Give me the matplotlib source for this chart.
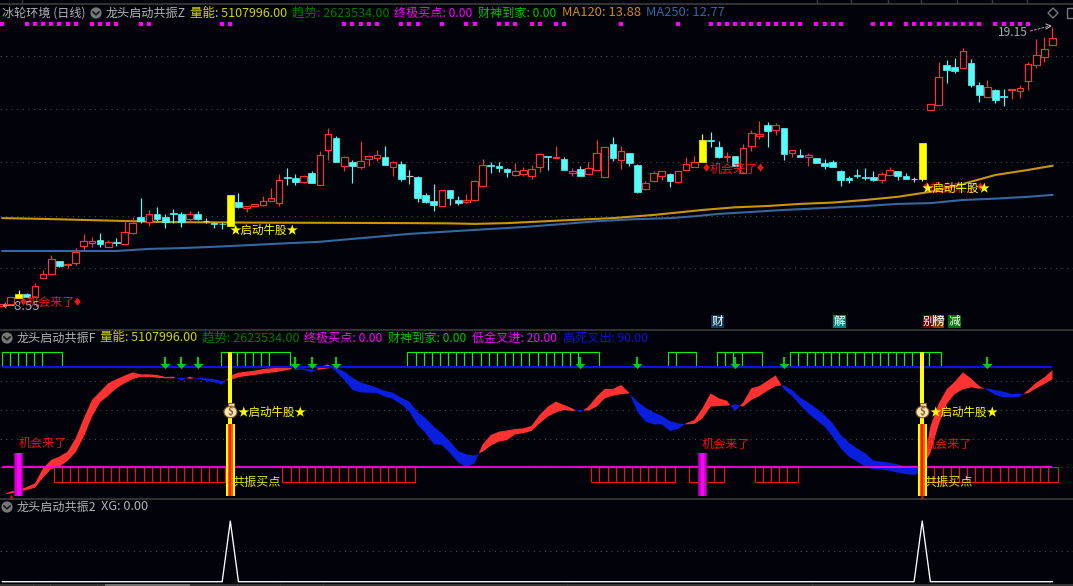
#!/usr/bin/env python3
# -*- coding: utf-8 -*-
import numpy as np
import matplotlib
matplotlib.use('Agg')
import matplotlib.pyplot as plt
from matplotlib.patches import Circle, Ellipse, Rectangle, Polygon

plt.rcParams['font.family'] = ['Noto Sans CJK SC', 'DejaVu Sans']

W, H = 1073, 586
BG = '#02020a'
GRID = '#4a4a48'
RED = '#ff3232'
CYAN = '#54fcfc'
YELLOW = '#ffff00'

# main panel, daily candles
opens = [8.55, 8.63, 8.87, 8.99, 8.90, 9.63, 9.78, 10.26, 10.11, 10.20,
         10.84, 10.96, 11.05, 10.80, 10.99, 10.92, 11.34, 11.92, 11.75, 12.05,
         11.92, 12.10, 12.05, 11.86, 12.05, 11.77, 11.72, 11.66, 11.60, 12.50,
         12.26, 12.36, 12.40, 12.54, 12.48, 13.44, 13.41, 13.27, 13.60, 13.16,
         14.49, 14.93, 13.88, 14.02, 13.84, 14.15, 14.19, 14.21, 13.84, 13.95,
         13.49, 13.45, 12.77, 12.54, 12.36, 12.96, 12.58, 12.51, 12.58, 13.12,
         13.91, 13.87, 13.76, 13.54, 13.58, 13.50, 13.84, 14.25, 14.17, 14.14,
         13.60, 13.76, 13.58, 13.73, 13.46, 14.71, 14.11, 14.36, 13.91, 13.01,
         13.30, 13.50, 13.57, 13.27, 13.73, 13.84, 14.02, 14.86, 14.59, 14.20,
         14.25, 13.59, 14.64, 15.02, 15.43, 15.25, 15.31, 14.35, 14.29, 14.20,
         14.17, 13.98, 14.02, 13.68, 13.41, 13.53, 13.45, 13.45, 13.34, 13.52,
         13.68, 13.49, 13.38, 13.38, 16.01, 16.20, 17.71, 17.63, 17.61, 17.78,
         16.95, 16.50, 16.76, 16.53, 16.75, 16.73, 17.11, 17.72, 18.02, 18.48]
closes = [8.61, 8.88, 8.99, 8.90, 9.30, 9.75, 10.32, 10.08, 10.15, 10.61,
          11.01, 11.03, 10.91, 10.97, 10.93, 11.35, 11.69, 11.78, 12.05, 11.86,
          11.73, 12.06, 11.74, 12.05, 11.86, 11.77, 11.68, 11.65, 12.77, 12.31,
          12.34, 12.43, 12.53, 12.64, 13.33, 13.43, 13.26, 13.48, 13.24, 14.28,
          15.07, 14.03, 14.20, 13.88, 14.05, 14.24, 14.28, 13.91, 14.01, 13.39,
          13.49, 12.65, 12.50, 12.39, 12.96, 12.65, 12.46, 12.58, 13.30, 13.91,
          13.87, 13.79, 13.64, 13.67, 13.72, 13.74, 14.31, 14.21, 14.21, 13.72,
          13.68, 13.49, 13.79, 14.36, 14.59, 14.17, 14.44, 13.98, 12.88, 13.21,
          13.59, 13.67, 13.30, 13.67, 13.93, 14.01, 14.86, 14.82, 14.21, 14.24,
          13.87, 14.54, 15.11, 15.07, 15.20, 15.42, 14.33, 14.47, 14.21, 14.28,
          13.98, 13.87, 13.83, 13.34, 13.34, 13.49, 13.41, 13.34, 13.57, 13.72,
          13.49, 13.38, 13.38, 14.74, 16.21, 17.24, 17.52, 17.48, 18.23, 16.95,
          16.57, 16.86, 16.38, 16.49, 16.78, 16.82, 17.73, 18.08, 18.30, 18.72]
highs = [8.63, 8.88, 9.16, 9.06, 9.41, 9.92, 10.48, 10.26, 10.20, 10.74,
         11.29, 11.16, 11.31, 11.05, 11.13, 11.82, 11.94, 12.64, 12.20, 12.30,
         12.03, 12.22, 12.11, 12.16, 12.16, 11.89, 11.73, 11.74, 12.77, 12.83,
         12.34, 12.43, 12.73, 13.02, 13.57, 13.79, 13.57, 13.52, 13.67, 14.44,
         15.31, 15.01, 14.25, 14.10, 14.82, 14.29, 14.48, 14.63, 14.06, 14.06,
         13.72, 13.49, 12.84, 13.19, 12.96, 12.96, 12.73, 12.81, 13.34, 14.14,
         14.02, 14.02, 13.79, 13.98, 13.83, 13.91, 14.36, 14.25, 14.63, 14.21,
         13.79, 13.87, 14.02, 14.86, 14.59, 14.97, 14.63, 14.36, 13.95, 13.30,
         13.68, 13.67, 13.60, 13.67, 14.21, 14.25, 15.09, 15.16, 14.82, 14.40,
         14.25, 14.69, 15.23, 15.58, 15.54, 15.50, 15.31, 14.47, 14.52, 14.36,
         14.17, 14.14, 14.10, 13.72, 13.49, 13.76, 13.79, 13.68, 13.64, 13.83,
         13.68, 13.60, 13.45, 14.74, 16.21, 17.82, 17.90, 17.97, 18.35, 17.94,
         17.06, 17.14, 16.80, 16.80, 16.78, 16.95, 17.82, 18.70, 18.77, 19.15]
lows = [8.55, 8.63, 8.87, 8.90, 8.90, 9.63, 9.78, 10.03, 10.01, 10.12,
        10.69, 10.79, 10.80, 10.80, 10.84, 10.87, 11.29, 11.69, 11.60, 11.79,
        11.53, 11.72, 11.56, 11.74, 11.82, 11.70, 11.53, 11.48, 11.60, 12.27,
        12.13, 12.32, 12.36, 12.54, 12.36, 13.15, 13.15, 13.22, 13.24, 13.16,
        14.10, 14.03, 13.68, 13.22, 13.76, 13.88, 14.06, 13.91, 13.49, 13.31,
        13.19, 12.50, 12.46, 12.16, 12.36, 12.39, 12.39, 12.46, 12.54, 13.12,
        13.60, 13.64, 13.45, 13.50, 13.49, 13.38, 13.64, 13.72, 14.17, 13.72,
        13.49, 13.49, 13.58, 13.73, 13.46, 14.06, 13.76, 13.87, 12.84, 12.96,
        13.26, 13.34, 13.07, 13.27, 13.73, 13.84, 14.02, 14.59, 14.17, 14.02,
        13.87, 13.59, 14.44, 14.90, 14.59, 15.05, 14.10, 14.21, 14.21, 13.87,
        13.98, 13.76, 13.83, 13.11, 13.22, 13.41, 13.34, 13.30, 13.22, 13.52,
        13.34, 13.38, 13.26, 13.30, 16.01, 16.20, 17.02, 17.40, 17.61, 16.87,
        16.30, 16.50, 16.26, 16.15, 16.42, 16.45, 16.76, 17.59, 17.82, 18.48]
yellow_bars = [2, 28, 86, 113]

ma120_idx = [0, 5, 10, 15, 20, 30, 40, 50, 55, 58, 62, 66, 70, 75, 80, 86, 90, 94,
             98, 102, 106, 110, 114, 118, 122, 126, 129]
ma120 = [11.89, 11.86, 11.82, 11.78, 11.74, 11.72, 11.71, 11.70, 11.69, 11.67, 11.70,
         11.76, 11.82, 11.89, 12.01, 12.20, 12.30, 12.35, 12.43, 12.48, 12.58, 12.70,
         12.89, 13.19, 13.53, 13.72, 13.88]
ma250_idx = [0, 14, 18, 22, 26, 30, 34, 39, 43, 50, 59, 64, 69, 73, 77, 82, 85, 88, 96,
             102, 106, 110, 114, 118, 122, 126, 129]
ma250 = [10.64, 10.64, 10.72, 10.75, 10.80, 10.86, 10.92, 10.99, 11.10, 11.29, 11.46,
         11.55, 11.67, 11.77, 11.84, 11.89, 11.96, 12.05, 12.20, 12.29, 12.35, 12.43,
         12.46, 12.58, 12.63, 12.70, 12.77]
main_grid = [18.05, 16.04, 14.02, 11.98, 9.99]
dot_level = 19.25
dot_idx = [0, 3, 4, 5, 6, 7, 8, 9, 11, 12, 13, 14, 17, 18, 27, 28, 42, 43, 44, 45, 46,
           49, 50, 51, 54, 57, 58, 61, 62, 63, 65, 66, 68, 69, 76, 83, 87, 88, 89, 90,
           91, 92, 93, 94, 95, 96, 97, 98, 100, 101, 102, 103, 107, 108, 109, 111, 112,
           113, 114, 115, 116, 117, 118, 119, 120, 122, 123, 124, 125, 126]

# oscillator panel
fast = [0.8, 3.2, 4.3, 6.4, 8.9, 19.4, 25.2, 27.5, 30.9, 40.2,
        54.1, 66.8, 72.6, 78.4, 81.2, 83.7, 86.0, 84.6, 84.6, 84.2,
        82.8, 83.0, 80.2, 83.0, 81.4, 80.2, 79.1, 77.5, 83.7, 85.8,
        86.5, 87.2, 88.3, 88.8, 89.3, 90.0, 87.6, 87.9, 85.8, 89.7,
        91.6, 86.5, 80.7, 73.8, 72.1, 71.9, 71.7, 69.1, 67.5, 63.8,
        58.7, 49.5, 43.7, 36.0, 35.6, 29.8, 23.5, 20.1, 22.8, 36.0,
        42.5, 44.8, 45.7, 46.7, 47.1, 48.8, 56.4, 62.2, 65.7, 63.3,
        61.0, 58.2, 62.2, 69.1, 74.5, 74.5, 77.2, 71.9, 58.7, 51.8,
        49.9, 49.9, 45.3, 46.7, 50.6, 52.9, 61.0, 71.4, 68.0, 66.3,
        59.2, 65.0, 74.9, 76.5, 80.2, 83.9, 74.2, 69.6, 63.3, 57.5,
        52.9, 48.3, 41.3, 33.2, 27.4, 24.0, 20.5, 18.6, 18.6, 17.7,
        16.3, 15.4, 14.7, 17.0, 48.3, 64.0, 74.2, 79.5, 86.0, 81.8,
        76.5, 73.7, 70.3, 68.6, 68.6, 69.1, 73.7, 78.8, 82.5, 87.6]
slow = [1.3, 1.8, 3.2, 4.3, 5.9, 12.9, 18.9, 20.5, 24.5, 30.5,
        41.3, 55.2, 65.2, 69.8, 74.9, 78.4, 81.4, 82.8, 82.8, 82.3,
        81.9, 81.9, 82.3, 81.6, 82.1, 81.9, 81.2, 80.0, 80.7, 82.6,
        83.5, 84.2, 85.1, 85.8, 86.5, 87.6, 88.8, 88.8, 87.9, 87.9,
        88.8, 89.3, 86.5, 82.3, 79.1, 77.2, 75.4, 73.1, 71.9, 68.4,
        65.7, 58.7, 54.1, 48.3, 43.7, 37.9, 31.4, 29.1, 28.2, 30.9,
        35.1, 37.9, 39.0, 43.0, 43.7, 45.3, 50.6, 55.2, 58.2, 59.9,
        59.2, 59.9, 59.4, 62.2, 68.0, 69.8, 70.8, 71.4, 65.7, 61.5,
        58.2, 55.9, 52.2, 50.6, 49.9, 50.2, 54.0, 62.2, 62.6, 62.9,
        63.8, 62.2, 66.8, 69.6, 73.3, 76.5, 77.0, 73.7, 68.6, 65.0,
        61.0, 56.4, 50.6, 42.5, 37.2, 33.2, 29.8, 24.7, 24.0, 23.3,
        22.1, 20.5, 19.8, 20.0, 29.8, 49.4, 64.0, 71.0, 74.2, 75.6,
        74.7, 74.9, 73.7, 72.6, 71.0, 71.0, 71.4, 74.9, 77.9, 81.2]
osc_grid = [80, 60, 40, 20]
high_line, low_line = 90, 20
# (first edge, last divider, end edge) in bar units
green_runs = [(-0.1, 4.9, 7.3), (26.8, 32.8, 35.3), (49.75, 70.75, 73.25),
              (81.8, 82.8, 85.25), (87.8, 90.8, 93.3), (96.8, 113.8, 115.3)]
red_runs = [(6.34, 27.34, 28.2), (34.4, 49.4, 50.65), (72.35, 81.35, 82.66),
            (84.4, 87.4, 88.6), (92.4, 96.4, 97.7), (112.5, 128.5, 129.65)]
arrow_idx = [20, 22, 24, 36, 38, 41, 71, 78, 90, 96, 121]
start_idx = [28, 113]
chance_idx = [2, 86]
triangle_idx = [1, 113]

# XG panel
xg = np.zeros(130)
xg[start_idx] = 1


def idx(px):
    return (px - 2.4) / 8.14


def price(py):
    return 8.55 + 0.038 * (306 - py)


def osc(py):
    return 20 + (467.4 - py) / 1.44


def xgv(py):
    return (581.7 - py) / 60.7


def panel(top, bottom, ylim):
    ax = fig.add_axes([0, 1 - bottom / H, 1, (bottom - top) / H], facecolor=BG)
    ax.set_xlim(idx(0), idx(W))
    ax.set_ylim(*ylim)
    ax.axis('off')
    return ax


def dotted(ax, levels):
    ax.hlines(levels, idx(0), idx(W), colors=GRID, lw=0.8, linestyles=(0, (1, 4)), zorder=1)


fig = plt.figure(figsize=(W / 100, H / 100), dpi=100, facecolor=BG)
ax1 = panel(4, 329, (price(329), price(4)))
ax2 = panel(330, 499, (osc(499), osc(330)))
ax3 = panel(500, 584, (xgv(584), xgv(500)))

# --- main panel ---
dotted(ax1, main_grid)
ax1.plot(ma120_idx, ma120, color='#c8960a', lw=1.5, zorder=2)
ax1.plot(ma250_idx, ma250, color='#35689f', lw=1.5, zorder=2)
ax1.scatter(dot_idx, [dot_level] * len(dot_idx), marker='s', s=6, color='#ff00ff', lw=0, zorder=2)

for i in range(len(opens)):
    o, c, h, l = opens[i], closes[i], highs[i], lows[i]
    top, bot = max(o, c), min(o, c)
    if i in yellow_bars:
        col = YELLOW
    elif c > o:
        col = RED
    elif c < o:
        col = CYAN
    else:
        col = '#c8c8c8'
    ax1.vlines(i, top, h, colors=col, lw=0.85, zorder=3)
    ax1.vlines(i, l, bot, colors=col, lw=0.85, zorder=3)
    if c == o:
        ax1.hlines(c, i - 0.41, i + 0.41, colors=col, lw=0.85, zorder=3)
    elif col == RED:
        ax1.add_patch(Rectangle((i - 0.41, bot), 0.82, top - bot, fc=BG, ec=col, lw=0.85, zorder=3))
    else:
        ax1.add_patch(Rectangle((i - 0.41, bot), 0.82, top - bot, fc=col, ec=col, lw=0.5, zorder=3))

# --- oscillator panel ---
dotted(ax2, osc_grid)
fast_a, slow_a = np.array(fast), np.array(slow)
xs = np.arange(len(fast))
ax2.fill_between(xs, fast_a, slow_a, where=fast_a >= slow_a, interpolate=True, color=RED, lw=0, zorder=2)
ax2.fill_between(xs, fast_a, slow_a, where=fast_a <= slow_a, interpolate=True, color='#0a1ede', lw=0, zorder=2)

for first, last_div, end in green_runs:
    edges = np.append(np.arange(first, last_div + 0.01, 1), end)
    ax2.bar(edges[:-1], 10.4, width=np.diff(edges), bottom=high_line, align='edge',
            fill=False, edgecolor='#0cf00c', lw=0.8, zorder=3)
for first, last_div, end in red_runs:
    edges = np.append(np.arange(first, last_div + 0.01, 1), end)
    ax2.bar(edges[:-1], -10, width=np.diff(edges), bottom=low_line, align='edge',
            fill=False, edgecolor='#f01414', lw=0.8, zorder=3)

ax2.hlines(high_line, 0, 129, colors='#0a14e6', lw=1.5, zorder=4)
ax2.hlines(low_line, 0, 129, colors='#ff00e0', lw=1.3, zorder=4)

ax2.vlines(arrow_idx, 91, 96.7, colors='#08c81e', lw=1.6, zorder=5)
ax2.scatter(arrow_idx, [90.5] * len(arrow_idx), marker=[(-1, 0.5), (1, 0.5), (0, -0.5)], s=55,
            color='#08c81e', lw=0, zorder=5)

ax2.scatter(triangle_idx, [-0.5] * len(triangle_idx), marker='^', s=14, color='#f01414', lw=0, zorder=5)
for i in start_idx:
    ax2.bar(i, 100, width=0.49, color=YELLOW, zorder=6)
    ax2.bar(i, 50, width=1.14, color=YELLOW, zorder=6)
    ax2.bar(i, 50, width=0.6, color='#ff5a00', zorder=6)
    ax2.bar(i, 50, width=0.25, color='#f01e00', zorder=6)
for i in chance_idx:
    ax2.bar(i, 30, width=1.12, color='#8c008c', zorder=6)
    ax2.bar(i, 30, width=0.8, color='#c800c8', zorder=6)
    ax2.bar(i, 30, width=0.45, color='#ff00ff', zorder=6)

# --- XG panel ---
dotted(ax3, [0.5])
ax3.plot(xs, xg, color='white', lw=0.95, zorder=3)

# --- text and icons, drawn in picture pixels ---
ov = fig.add_axes([0, 0, 1, 1], facecolor='none', zorder=10)
ov.set_xlim(0, W)
ov.set_ylim(H, 0)
ov.axis('off')
FS = 8.7

for y in (3.5, 329.5, 498.8, 584.5):
    ov.plot([0, W], [y, y], color='#3c3c3c', lw=1.2, zorder=1)
for x in (22, 817, 851, 888, 921, 957, 992, 1027):
    ov.plot([x, x], [0, 3], color='#3c3c3c', lw=1)
for x in (33, 50, 97, 237, 280, 323, 567, 812):
    ov.plot([x, x], [584, 586], color='#3c3c3c', lw=1)
ov.add_patch(Rectangle((105, 584), 85, 3, fc='#6e6e6e', ec='none'))


def label(x, y, s, color, size=FS, z=5):
    ov.text(x, y, s, color=color, fontsize=size, ha='left', va='center', zorder=z)


def chance_label(x, y):
    ov.text(x + 3, y, '♦', color='#f01414', fontsize=6.5, ha='center', va='center', zorder=4)
    label(x + 7, y, '机会来了', '#f01414', FS, 4)
    ov.text(x + 57, y, '♦', color='#f01414', fontsize=6.5, ha='center', va='center', zorder=4)


def arrow_icon(x, y):
    ov.add_patch(Circle((x, y), 5.6, fc='#787878', ec='none'))
    ov.plot([x - 3, x, x + 3], [y - 1, y + 1.8, y - 1], color='#1a1a1a', lw=1.2)


TXT = '#b4b4b4'
YEL = '#d2d200'
GRN = '#007d00'
MAG = '#ff00ff'
LGR = '#00c800'

label(2, 13, '冰轮环境 (日线)', TXT)
arrow_icon(96, 13)
label(106, 13, '龙头启动共振Z', TXT)
label(190, 13, '量能: 5107996.00', YEL, 9)
label(292, 13, '趋势: 2623534.00', GRN, 9)
label(394, 13, '终极买点: 0.00', MAG)
label(478, 13, '财神到家: 0.00', LGR)
label(562, 13, 'MA120: 13.88', '#d28c00', 9.3)
label(646, 13, 'MA250: 12.77', '#35689f', 9.3)

arrow_icon(7, 338)
label(17, 338, '龙头启动共振F', TXT)
label(100, 338, '量能: 5107996.00', YEL, 9)
label(202, 338, '趋势: 2623534.00', GRN, 9)
label(304, 338, '终极买点: 0.00', MAG)
label(388, 338, '财神到家: 0.00', LGR)
label(472, 338, '低金叉进: 20.00', MAG)
label(563, 338, '高死叉出: 90.00', '#0a14dc')

arrow_icon(7, 507)
label(17, 507, '龙头启动共振2', TXT)
label(101, 507, 'XG: 0.00', TXT, 9.2)

# diamond and box at the top right
ov.add_patch(Polygon([(1053, 8), (1058, 13), (1053, 18), (1048, 13)], fc='none', ec='#787878', lw=1))
ov.add_patch(Rectangle((1067, 8), 8, 10, fc='none', ec='#787878', lw=1))

# price labels
label(2, 306.5, '←8.55', '#a0a8b4', 9.4, 6)
label(998, 32, '19.15', '#a0a8b4', 8.7, 6)
ov.plot([1030, 1050], [31, 26], color='#a0a8b4', lw=0.7, ls=(0, (3, 1)))
ov.plot([1046, 1051, 1046], [24, 26, 29], color='#c8c8c8', lw=0.7)

# main panel signals
chance_label(20, 302.5)
chance_label(703, 169)
chance_label(923, 188)
label(230, 230.5, '★启动牛股★', YELLOW, 8.3, 5)
label(922, 188, '★启动牛股★', YELLOW, 8.3, 5)

# oscillator signals: the text goes under the sticks
ax2.text(idx(19), osc(443), '机会来了', color='#e61414', fontsize=FS, va='center', zorder=5)
ax2.text(idx(702), osc(444), '机会来了', color='#e61414', fontsize=FS, va='center', zorder=5)
ax2.text(idx(924), osc(444), '机会来了', color='#e61414', fontsize=FS, va='center', zorder=5)
label(238, 412, '★启动牛股★', YELLOW, 8.3)
label(930, 412, '★启动牛股★', YELLOW, 8.3)
label(232.5, 482, '共振买点', '#e6e600')
label(924, 482, '共振买点', '#e6e600')

# money bags
for x in (230.5, 922.5):
    ov.add_patch(Rectangle((x - 3, 402.5), 6, 4, fc='#f0dca0', ec='#8c5a28', lw=0.7, zorder=7))
    ov.add_patch(Ellipse((x, 412), 13, 11.5, fc='#f5e6b4', ec='#8c5a28', lw=0.8, zorder=7))
    ov.text(x, 412, '$', color='#8c5a28', fontsize=7, ha='center', va='center', weight='bold', zorder=8)

# event badges above the oscillator panel
for x0, x1, s, col in [(711, 724, '财', '#0f3a5c'), (833, 846, '解', '#008080'),
                       (923, 933, '别', '#780000'), (933, 944, '榜', '#804000'),
                       (948, 961, '减', '#006e00')]:
    ov.add_patch(Rectangle((x0, 315), x1 - x0, 13, fc=col, ec='none', zorder=4))
    ov.text((x0 + x1) / 2, 321.2, s, color='white', fontsize=8.5, ha='center', va='center', zorder=5)

plt.savefig('out.png', dpi=100, facecolor=BG)
